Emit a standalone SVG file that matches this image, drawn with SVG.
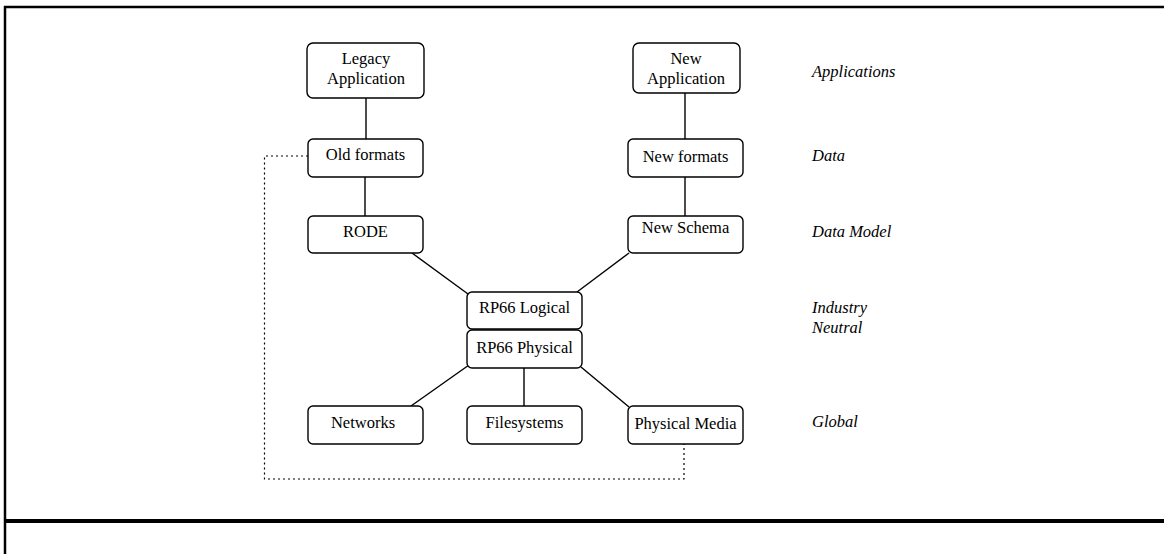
<svg xmlns="http://www.w3.org/2000/svg" width="1164" height="554" viewBox="0 0 1164 554">
<style>
.box{fill:#fff;stroke:#000;stroke-width:1.4}
.t{font-family:"Liberation Serif","Times New Roman",serif;font-size:16.5px;fill:#000;text-anchor:middle}
.lab{font-family:"Liberation Serif","Times New Roman",serif;font-size:16.5px;font-style:italic;fill:#000}
.c{stroke:#000;stroke-width:1.4;fill:none}
.d{stroke:#000;stroke-width:1.2;fill:none;stroke-dasharray:2 3}
</style>
<rect width="1164" height="554" fill="#fff"/>
<g id="frame">
<line x1="4" y1="7" x2="1164" y2="7" stroke="#000" stroke-width="2.5"/>
<line x1="5" y1="6" x2="5" y2="554" stroke="#000" stroke-width="2.5"/>
<line x1="4" y1="521" x2="1164" y2="521" stroke="#000" stroke-width="4"/>
</g>
<g id="connectors">
<line class="c" x1="366" y1="98" x2="366" y2="139"/>
<line class="c" x1="365" y1="177" x2="365" y2="216"/>
<line class="c" x1="685" y1="93" x2="685" y2="139"/>
<line class="c" x1="685" y1="177" x2="685" y2="216"/>
<line class="c" x1="412" y1="253" x2="468" y2="294"/>
<line class="c" x1="629" y1="253" x2="577" y2="292"/>
<line class="c" x1="469" y1="365" x2="411" y2="406"/>
<line class="c" x1="524" y1="368" x2="524" y2="406"/>
<line class="c" x1="581" y1="367" x2="629" y2="407"/>
<polyline class="d" points="308,156 264.5,156 264.5,479 684,479 684,444"/>
</g>
<g id="legacy-application"><rect class="box" x="307" y="43" width="117" height="55" rx="6"/><text class="t" x="366" y="64">Legacy</text><text class="t" x="366" y="84">Application</text></g>
<g id="new-application"><rect class="box" x="633" y="43" width="107" height="50" rx="6"/><text class="t" x="686" y="64">New</text><text class="t" x="686" y="84">Application</text></g>
<g id="old-formats"><rect class="box" x="308" y="139" width="115" height="38" rx="5"/><text class="t" x="365.5" y="160">Old formats</text></g>
<g id="new-formats"><rect class="box" x="628" y="139" width="115" height="38" rx="5"/><text class="t" x="685.5" y="162">New formats</text></g>
<g id="rode"><rect class="box" x="308" y="216" width="115" height="37" rx="5"/><text class="t" x="365.5" y="237">RODE</text></g>
<g id="new-schema"><rect class="box" x="628" y="216" width="115" height="37" rx="5"/><text class="t" x="685.5" y="233">New Schema</text></g>
<g id="rp66-logical"><rect class="box" x="467" y="292" width="115" height="37" rx="5"/><text class="t" x="524.5" y="313">RP66 Logical</text></g>
<g id="rp66-physical"><rect class="box" x="467" y="330" width="115" height="38" rx="5"/><text class="t" x="524.5" y="353">RP66 Physical</text></g>
<g id="networks"><rect class="box" x="308" y="406" width="115" height="38" rx="5"/><text class="t" x="363" y="428">Networks</text></g>
<g id="filesystems"><rect class="box" x="467" y="406" width="115" height="38" rx="5"/><text class="t" x="524.5" y="428">Filesystems</text></g>
<g id="physical-media"><rect class="box" x="628" y="406" width="115" height="38" rx="5"/><text class="t" x="685.5" y="429">Physical Media</text></g>
<g id="labels">
<text class="lab" x="812" y="77">Applications</text>
<text class="lab" x="812" y="161">Data</text>
<text class="lab" x="812" y="237">Data Model</text>
<text class="lab" x="812" y="313">Industry</text>
<text class="lab" x="812" y="333">Neutral</text>
<text class="lab" x="812" y="427">Global</text>
</g>
</svg>
